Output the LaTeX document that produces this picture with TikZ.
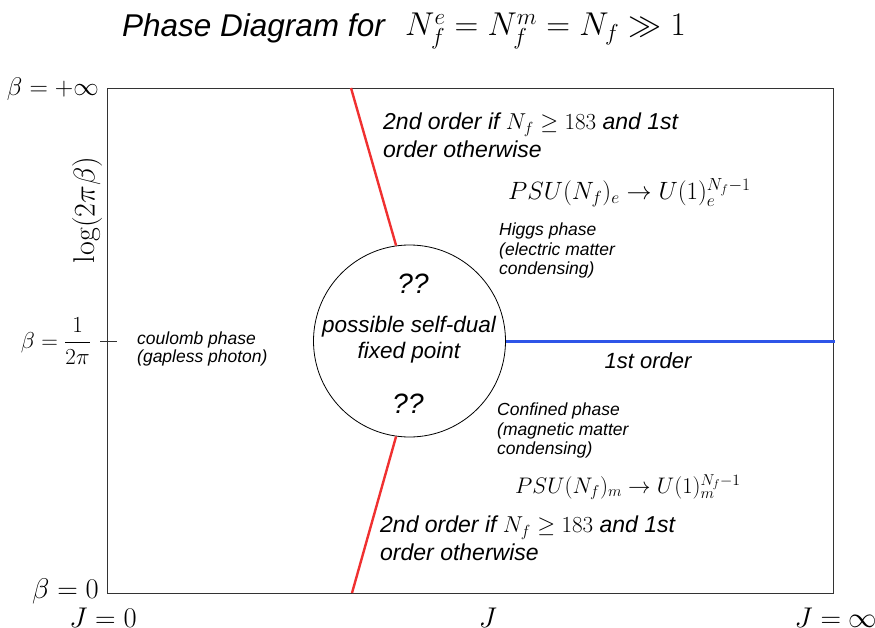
\RequirePackage{fix-cm}
\documentclass[tikz,border=0pt]{standalone}
\usepackage{fontspec}
\newfontfamily\arialf{Liberation Sans}
\definecolor{redl}{HTML}{F03030}
\definecolor{bluel}{HTML}{2F55E8}
\tikzset{
  txt/.style={inner sep=0pt, font=\arialf\itshape\fontsize{#1}{#1}\selectfont},
  mth/.style={inner sep=0pt, font=\fontsize{#1}{#1}\selectfont},
  frame/.style={draw=black!80, line width=0.9pt},
  redline/.style={draw=redl, line width=2.4pt},
  blueline/.style={draw=bluel, line width=3pt},
}
\begin{document}
\begin{tikzpicture}[x=1pt,y=-1pt]
\useasboundingbox (0,0) rectangle (875,628);
% title
\node[txt=31.5, anchor=base west] (title) at (122,37) {Phase Diagram for};
\node[mth=33, anchor=base west] (titlem) at (405,36) {$N_f^e = N_f^m = N_f \gg 1$};
% frame
\coordinate (tl) at (107,88);
\coordinate (br) at (833,593);
\draw[frame] (tl) rectangle (br);
% circle
\node[circle, draw, line width=0.8pt, minimum size=192pt, inner sep=0pt] (fp) at (409.5,341) {};
\node[txt=28] (q1) at (413,284) {??};
\node[txt=22.5] (sd1) at (409,327) {possible self-dual};
\node[txt=22.5] (sd2) at (409,353) {fixed point};
\node[txt=28] (q2) at (408,404) {??};
% lines
\coordinate (ut) at (351,88);
\coordinate (lb) at (352,593);
\coordinate (be) at (835,341);
\draw[redline] (ut) -- (fp.98.6);
\draw[redline] (lb) -- (fp.-98.2);
\draw[blueline] (fp.east) -- (be);
% axis labels
\node[mth=25.5, anchor=east] (binf) at (99,89) {$\beta=+\infty$};
\node[mth=30, rotate=90] (logl) at (87,210) {$\log(2\pi\beta)$};
\node[mth=23, anchor=east] (bhalf) at (91,341) {$\beta=\displaystyle\frac{1}{2\pi}$};
\coordinate (tk1) at (100,341);
\coordinate (tk2) at (117,341);
\draw[frame] (tk1) -- (tk2);
\node[mth=28.5, anchor=east] (bzero) at (99,591) {$\beta=0$};
\node[mth=28.5] (j0) at (103,618) {$J=0$};
\node[mth=28.5] (jj) at (488,618) {$J$};
\node[mth=28.5] (jinf) at (836,618) {$J=\infty$};
% texts
\node[txt=17.5, anchor=west, align=left] (coul) at (137,349) {coulomb phase\\[1pt](gapless photon)};
\node[txt=23, anchor=north west, align=left] (up2nd) at (383,113) {2nd order if $N_f\geq 183$ and 1st\\[3pt]order otherwise};
\node[mth=25, anchor=west] (psue) at (508,193) {$PSU(N_f)_e\rightarrow U(1)_e^{N_f-1}$};
\node[txt=17.5, anchor=north west, align=left] (higgs) at (499,223) {Higgs phase\\[2pt](electric matter\\[2pt]condensing)};
\node[txt=22] (first) at (648,361) {1st order};
\node[txt=17.5, anchor=north west, align=left] (conf) at (497,403) {Confined phase\\[2pt](magnetic matter\\[2pt]condensing)};
\node[mth=22.5, anchor=west] (psum) at (515,487) {$PSU(N_f)_m\rightarrow U(1)_m^{N_f-1}$};
\node[txt=23, anchor=north west, align=left] (lo2nd) at (380,516) {2nd order if $N_f\geq 183$ and 1st\\[3pt]order otherwise};
\end{tikzpicture}
\end{document}
